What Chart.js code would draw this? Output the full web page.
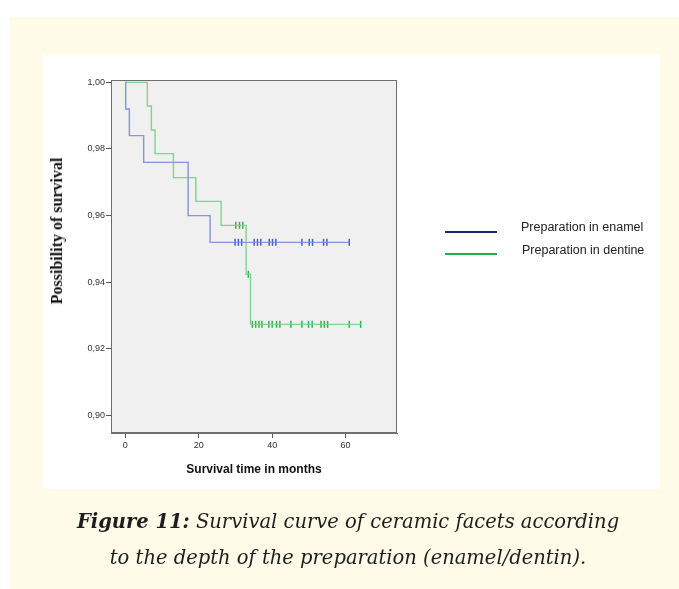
<!DOCTYPE html>
<html>
<head>
<meta charset="utf-8">
<script src="https://cdn.jsdelivr.net/npm/chart.js@4.4.1/dist/chart.umd.min.js"></script>
<style>
  body { margin: 0; background: #ffffff; }
  #page { position: relative; width: 679px; height: 589px; overflow: hidden; }
  #yellow { position: absolute; left: 10px; top: 17px; width: 669px; height: 572px; background: #fffbe8; }
  #panel { position: absolute; left: 42px; top: 54px; width: 618px; height: 435px; background: #ffffff; }
  #chartCanvas { position: absolute; left: 0; top: 0; }
  .leg { position: absolute; font-family: "Liberation Sans", Arial, sans-serif; font-size: 12.5px; color: #222; }
  .legLine { position: absolute; left: 445px; width: 52px; height: 2px; }
  #yTitle { position: absolute; left: 57px; top: 231px; transform: translate(-50%, -50%) rotate(-90deg);
    white-space: nowrap; font-family: "Liberation Serif", "Times New Roman", serif; font-weight: bold; font-size: 16px; color: #111; }
  #caption { position: absolute; left: 3px; width: 690px; top: 504px; text-align: center;
    font-family: "DejaVu Serif", serif; font-style: italic; font-size: 19.5px; line-height: 36px; color: #1e1e1e; }
</style>
</head>
<body>
<div id="page">
  <div id="yellow"></div>
  <div id="panel"></div>
  <canvas id="chartCanvas" width="679" height="589"></canvas>
  <div id="yTitle">Possibility of survival</div>
  <div class="legLine" style="top:231px; background:#14296b;"></div>
  <div class="legLine" style="top:253px; background:#1fb24a;"></div>
  <div class="leg" style="left:521px; top:220px;">Preparation in enamel</div>
  <div class="leg" style="left:522px; top:243px;">Preparation in dentine</div>
  <div id="caption"><b>Figure 11:</b> Survival curve of ceramic facets according<br>to the depth of the preparation (enamel/dentin).</div>
</div>
<script>
// Kaplan-Meier steps (time in months, survival from that time on)
const enamelTimes = [0, 0.1, 1.1, 5.0, 17.1, 23.1, 61.0];
const enamelSurv = [1.0, 0.992, 0.984, 0.976, 0.960, 0.952, 0.952];
const dentineTimes = [0, 6.0, 7.1, 8.1, 13.1, 19.2, 26.1, 32.9, 34.1, 64.2];
const dentineSurv = [1.0, 0.9929, 0.9857, 0.9786, 0.9714, 0.9643, 0.9571, 0.9424, 0.9274, 0.9274];

// censored observations
const enamelCensTimes = [29.9, 30.8, 31.7, 35.1, 36.0, 36.9, 39.2, 40.1, 41.0, 48.1, 50.1, 51.0, 54.0, 54.9, 61.0];
const enamelCensSurv = enamelCensTimes.map(() => 0.952);
const dentineCensTimes = [30.1, 31.1, 32.0, 33.5, 34.6, 35.5, 36.4, 37.2, 39.1, 40.0, 41.2, 42.1, 45.1, 48.1, 49.9, 50.9, 53.3, 54.2, 55.1, 61.0, 64.1];
const dentineCensSurv = [0.9571, 0.9571, 0.9571, 0.9424, 0.9274, 0.9274, 0.9274, 0.9274, 0.9274, 0.9274, 0.9274, 0.9274, 0.9274, 0.9274, 0.9274, 0.9274, 0.9274, 0.9274, 0.9274, 0.9274, 0.9274];

const xTicks = [0, 20, 40, 60];
const yTicks = [0.90, 0.92, 0.94, 0.96, 0.98, 1.00];

function pts(xs, ys) { return xs.map((x, i) => ({ x: x, y: ys[i] })); }

// plot background and frame
const framePlugin = {
  id: 'frame',
  beforeDraw(chart) {
    const a = chart.chartArea, c = chart.ctx;
    c.save();
    c.fillStyle = '#f0f0f0';
    c.fillRect(a.left, a.top, a.right - a.left, a.bottom - a.top);
    c.restore();
  },
  afterDraw(chart) {
    const a = chart.chartArea, c = chart.ctx;
    c.save();
    c.strokeStyle = '#6e6e6e';
    c.lineWidth = 1;
    c.strokeRect(a.left + 0.5, a.top + 0.5, a.right - a.left - 1, a.bottom - a.top - 1);
    c.restore();
  }
};

const tickFont = { family: '"Liberation Sans Narrow", "Liberation Sans", Arial, sans-serif', size: 9 };

new Chart(document.getElementById('chartCanvas').getContext('2d'), {
  type: 'line',
  data: {
    datasets: [{
      label: 'Preparation in enamel',
      data: pts(enamelTimes, enamelSurv),
      stepped: 'before',
      borderColor: 'rgba(120,140,210,0.9)',
      borderWidth: 1.4,
      pointRadius: 0,
      fill: false
    }, {
      label: 'Preparation in dentine',
      data: pts(dentineTimes, dentineSurv),
      stepped: 'before',
      borderColor: 'rgba(125,208,138,0.95)',
      borderWidth: 1.4,
      pointRadius: 0,
      fill: false
    }, {
      label: 'enamel censored',
      data: pts(enamelCensTimes, enamelCensSurv),
      showLine: false,
      pointStyle: 'line',
      rotation: 90,
      pointRadius: 3.5,
      pointBorderWidth: 1.5,
      pointBorderColor: '#4560b8',
      pointBackgroundColor: '#4560b8'
    }, {
      label: 'dentine censored',
      data: pts(dentineCensTimes, dentineCensSurv),
      showLine: false,
      pointStyle: 'line',
      rotation: 90,
      pointRadius: 3.5,
      pointBorderWidth: 1.5,
      pointBorderColor: '#34b04a',
      pointBackgroundColor: '#34b04a'
    }]
  },
  options: {
    responsive: false,
    animation: false,
    layout: { padding: { left: 45, top: 80, right: 282, bottom: 108 } },
    plugins: { legend: { display: false }, tooltip: { enabled: false } },
    scales: {
      x: {
        type: 'linear',
        min: -3.9,
        max: 74.0,
        afterBuildTicks: s => { s.ticks = xTicks.map(v => ({ value: v })); },
        afterFit: s => { s.height = 48; },
        grid: { drawOnChartArea: false, tickLength: 5, color: '#555' },
        border: { color: '#6e6e6e' },
        ticks: { font: tickFont, color: '#333', padding: 2, maxRotation: 0 },
        title: { display: true, text: 'Survival time in months', color: '#111',
          font: { family: '"Liberation Sans", Arial, sans-serif', size: 12, weight: 'bold' } }
      },
      y: {
        min: 0.8948,
        max: 1.0007,
        afterBuildTicks: s => { s.ticks = yTicks.map(v => ({ value: v })); },
        afterFit: s => { s.width = 66; },
        grid: { drawOnChartArea: false, tickLength: 5, color: '#555' },
        border: { color: '#6e6e6e' },
        ticks: { font: tickFont, color: '#333', padding: 1,
          callback: v => v.toFixed(2).replace('.', ',') },
        title: { display: false }
      }
    }
  },
  plugins: [framePlugin]
});
</script>
</body>
</html>
